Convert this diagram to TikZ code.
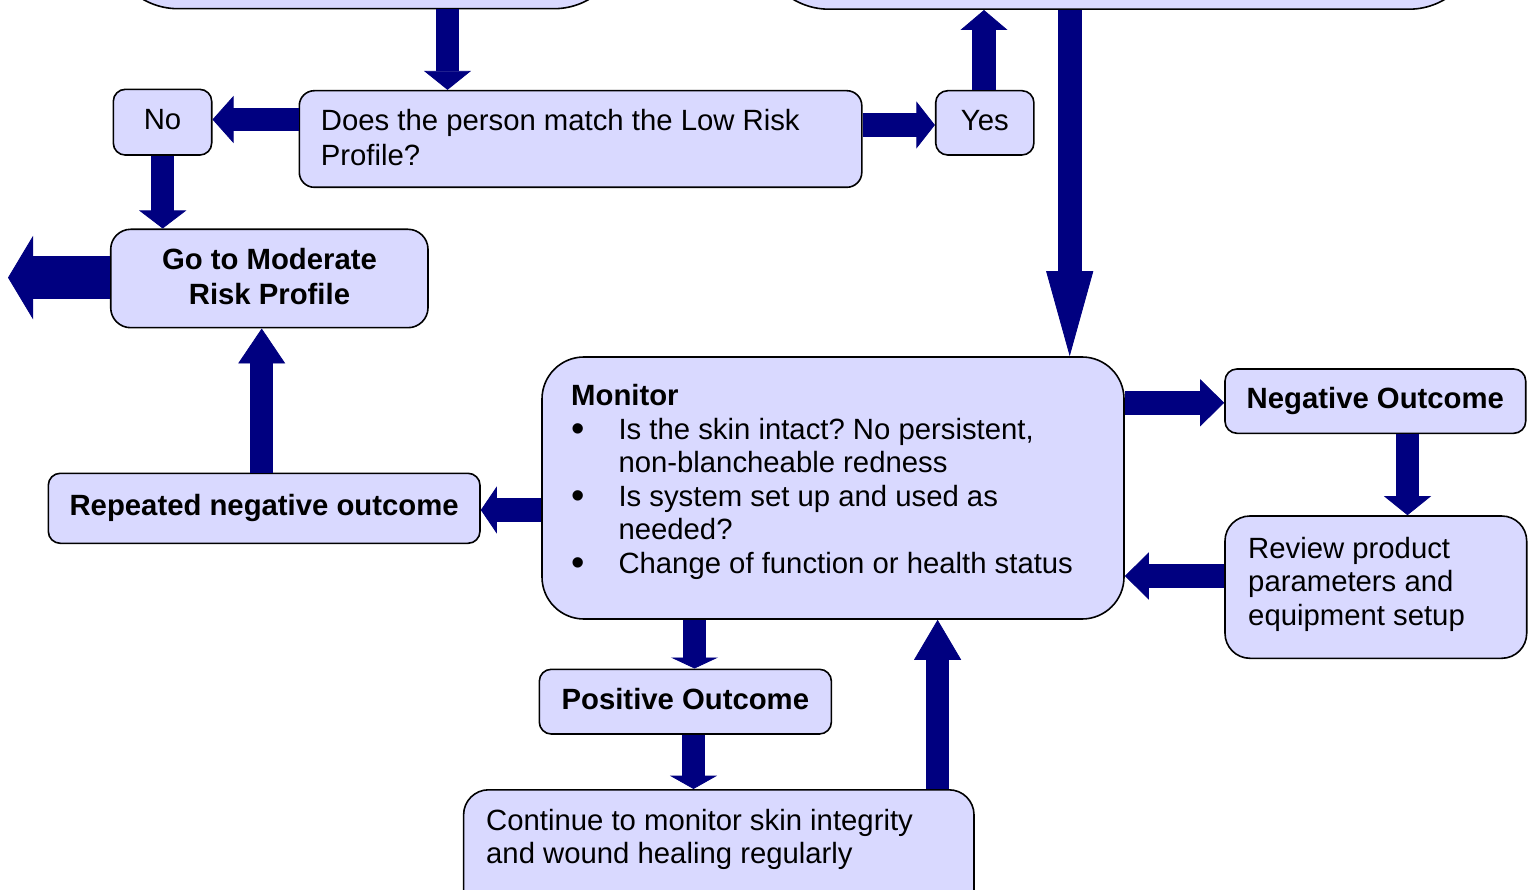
\documentclass[tikz,border=0pt]{standalone}
\usepackage{fontspec}
\usepackage{graphicx}
\setmainfont{Liberation Sans}
\usetikzlibrary{arrows.meta}
\frenchspacing
\definecolor{boxfill}{RGB}{217,217,255}
\definecolor{navyarrow}{RGB}{0,0,128}
\newcommand{\bul}{\makebox[47.3pt][l]{\hspace{0.5pt}\raisebox{-1.6pt}{\scalebox{1.3}{\textbullet}}}}
\begin{document}
\begin{tikzpicture}[x=1pt,y=-1pt,
  font=\fontsize{29.3}{33.5}\selectfont,
  box/.style={draw=black, line width=1.6pt, fill=boxfill, inner sep=0pt, rounded corners=12pt},
  one/.style={text height=21pt, text depth=6pt},
  txt/.style={inner sep=0pt, align=left},
  barrow/.style={draw=navyarrow, line width=23.5pt, -{Triangle[length=#1, width=47pt, line width=0.8pt]}},
  bigarrow/.style={draw=navyarrow, line width=43.3pt, -{Triangle[length=25pt, width=83.3pt, line width=0.8pt]}}]
\fill[white] (0,0) rectangle (1534,890);
\useasboundingbox (0,0) rectangle (1534,890);

% boxes
\node[box, rounded corners=70pt, minimum width=516pt, minimum height=220pt, anchor=south] (tl) at (366,9.5) {};
\node[box, rounded corners=70pt, minimum width=720pt, minimum height=220pt, anchor=south] (tr) at (1119,10) {};
\node[box, one, minimum width=98.4pt, minimum height=65.7pt] (no) at (162.5,122.2) {No};
\node[box, rounded corners=15pt, minimum width=562.5pt, minimum height=96.6pt] (does) at (580.55,139) {};
\node[box, one, minimum width=98.2pt, minimum height=64.3pt] (yes) at (984.8,122.85) {Yes};
\node[box, rounded corners=20pt, minimum width=317.3pt, minimum height=98.4pt] (gomod) at (269.35,278.5) {};
\node[box, one, minimum width=431.7pt, minimum height=70pt] (rep) at (264.15,508.3) {\textbf{Repeated negative outcome}};
\node[box, rounded corners=42pt, minimum width=582pt, minimum height=262pt] (mon) at (833,488) {};
\node[box, one, minimum width=300.7pt, minimum height=64.3pt] (neg) at (1375.35,401.15) {\textbf{Negative Outcome}};
\node[box, rounded corners=25pt, minimum width=301.7pt, minimum height=142.3pt] (rev) at (1375.85,587.15) {};
\node[box, one, minimum width=292.1pt, minimum height=64.7pt] (pos) at (685.35,701.65) {\textbf{Positive Outcome}};
\node[box, rounded corners=25pt, minimum width=510.4pt, minimum height=140pt, anchor=north] (cont) at (718.8,789) {};

% texts
\node[txt, anchor=north west, font=\fontsize{29.3}{35}\selectfont] (doestext) at (320.7,106)
  {\rule{0pt}{24pt}Does the person match the Low Risk\\Profile?};
\node[txt, align=center, anchor=north, font=\fontsize{29.3}{34.7}\selectfont\bfseries] (gomodtext) at (269.5,245.3)
  {\rule{0pt}{24pt}Go to Moderate\\Risk Profile};
\node[txt, anchor=north west] (montext) at (571,381.7)
  {\rule{0pt}{24pt}\textbf{Monitor}\\
   \bul Is the skin intact? No persistent,\\
   \hspace*{47.3pt}non-blancheable redness\\
   \bul Is system set up and used as\\
   \hspace*{47.3pt}needed?\\
   \bul Change of function or health status};
\node[txt, anchor=north west, font=\fontsize{29.3}{33.3}\selectfont] (revtext) at (1248,534.3)
  {\rule{0pt}{24pt}Review product\\parameters and\\equipment setup};
\node[txt, anchor=north west, font=\fontsize{29.3}{33.3}\selectfont] (conttext) at (486,806)
  {\rule{0pt}{24pt}Continue to monitor skin integrity\\and wound healing regularly};

% connectors
\coordinate (x1) at (447.5,0);
\draw[barrow=19pt] (tl.south -| x1) -- (does.north -| x1);
\coordinate (y2) at (0,119.5);
\draw[barrow=21pt] (does.west |- y2) -- (no.east |- y2);
\coordinate (y3) at (0,125);
\draw[barrow=18.5pt] (does.east |- y3) -- (yes.west |- y3);
\coordinate (x4) at (984,0);
\draw[barrow=20pt] (yes.north -| x4) -- (tr.south -| x4);
\coordinate (x5) at (1069.7,0);
\draw[barrow=85pt, line width=24pt] (tr.south -| x5) -- (mon.north -| x5);
\coordinate (x6) at (162.7,0);
\draw[barrow=18pt] (no.south -| x6) -- (gomod.north -| x6);
\coordinate (exit) at (8,277.6);
\draw[bigarrow] (gomod.west |- exit) -- (exit);
\coordinate (x8) at (261.7,0);
\draw[barrow=35pt] (rep.north -| x8) -- (gomod.south -| x8);
\coordinate (y9) at (0,510);
\draw[barrow=16pt] (mon.west |- y9) -- (rep.east |- y9);
\coordinate (y10) at (0,402.8);
\draw[barrow=24pt] (mon.east |- y10) -- (neg.west |- y10);
\coordinate (x11) at (1407.5,0);
\draw[barrow=19pt] (neg.south -| x11) -- (rev.north -| x11);
\coordinate (y12) at (0,576);
\draw[barrow=24pt] (rev.west |- y12) -- (mon.east |- y12);
\coordinate (x13) at (694.5,0);
\draw[barrow=11pt] (mon.south -| x13) -- (pos.north -| x13);
\coordinate (x14) at (693.5,0);
\draw[barrow=13.3pt] (pos.south -| x14) -- (cont.north -| x14);
\coordinate (x15) at (937.6,0);
\draw[barrow=40pt] (cont.north -| x15) -- (mon.south -| x15);
\end{tikzpicture}
\end{document}
